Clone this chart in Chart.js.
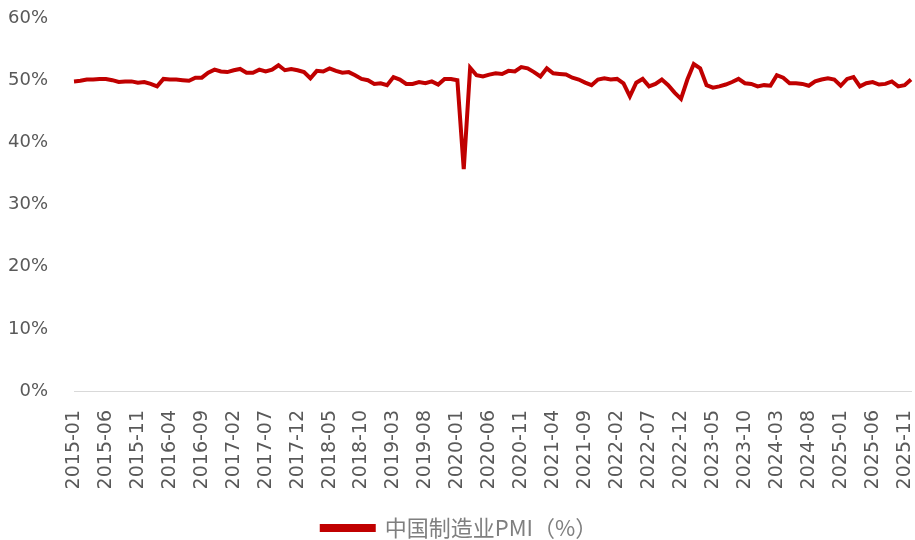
<!DOCTYPE html>
<html>
<head>
<meta charset="utf-8">
<script src="https://cdn.jsdelivr.net/npm/chart.js@4"></script>
<style>
  html, body { margin: 0; padding: 0; background: #fff; }
  #wrap { width: 915px; height: 540px; }
</style>
</head>
<body>
<div id="wrap"><canvas id="pmiChart"></canvas></div>
<script>
// mois 2015-01 .. 2025-12
const years = ['2015','2016','2017','2018','2019','2020','2021','2022','2023','2024','2025'];
const months = ['01','02','03','04','05','06','07','08','09','10','11','12'];
const labels = [];
years.forEach(y => months.forEach(m => labels.push(y + '-' + m)));

const pmi2015 = [49.8, 49.9, 50.1, 50.1, 50.2, 50.2, 50.0, 49.7, 49.8, 49.8, 49.6, 49.7];
const pmi2016 = [49.4, 49.0, 50.2, 50.1, 50.1, 50.0, 49.9, 50.4, 50.4, 51.2, 51.7, 51.4];
const pmi2017 = [51.3, 51.6, 51.8, 51.2, 51.2, 51.7, 51.4, 51.7, 52.4, 51.6, 51.8, 51.6];
const pmi2018 = [51.3, 50.3, 51.5, 51.4, 51.9, 51.5, 51.2, 51.3, 50.8, 50.2, 50.0, 49.4];
const pmi2019 = [49.5, 49.2, 50.5, 50.1, 49.4, 49.4, 49.7, 49.5, 49.8, 49.3, 50.2, 50.2];
const pmi2020 = [50.0, 35.7, 52.0, 50.8, 50.6, 50.9, 51.1, 51.0, 51.5, 51.4, 52.1, 51.9];
const pmi2021 = [51.3, 50.6, 51.9, 51.1, 51.0, 50.9, 50.4, 50.1, 49.6, 49.2, 50.1, 50.3];
const pmi2022 = [50.1, 50.2, 49.5, 47.4, 49.6, 50.2, 49.0, 49.4, 50.1, 49.2, 48.0, 47.0];
const pmi2023 = [50.1, 52.6, 51.9, 49.2, 48.8, 49.0, 49.3, 49.7, 50.2, 49.5, 49.4, 49.0];
const pmi2024 = [49.2, 49.1, 50.8, 50.4, 49.5, 49.5, 49.4, 49.1, 49.8, 50.1, 50.3, 50.1];
const pmi2025 = [49.1, 50.2, 50.5, 49.0, 49.5, 49.7, 49.3, 49.4, 49.8, 49.0, 49.2, 50.1];
const pmi = [].concat(pmi2015, pmi2016, pmi2017, pmi2018, pmi2019, pmi2020,
                      pmi2021, pmi2022, pmi2023, pmi2024, pmi2025);

const yTicks = [0, 10, 20, 30, 40, 50, 60];

window.addEventListener("DOMContentLoaded", () => {
  const ctx = document.getElementById('pmiChart').getContext('2d');
  new Chart(ctx, {
    type: 'line',
    data: {
      labels: labels,
      datasets: [{
        label: '中国制造业PMI（%）',
        data: pmi,
        borderColor: '#C00000',
        backgroundColor: '#C00000',
        borderWidth: 4,
        pointRadius: 0,
        tension: 0
      }]
    },
    options: {
      responsive: true,
      maintainAspectRatio: false,
      animation: false,
      layout: { padding: { left: 8, right: 4, top: 18, bottom: -9 } },
      plugins: {
        tooltip: { enabled: false },
        legend: {
          position: 'bottom',
          labels: {
            boxWidth: 52,
            boxHeight: 4,
            padding: 2,
            color: '#7f7f7f',
            font: { family: '"Noto Sans CJK SC", sans-serif', size: 22 }
          }
        }
      },
      scales: {
        x: {
          grid: { display: false },
          border: { display: true, color: '#d9d9d9', width: 1 },
          afterFit: s => { s.paddingLeft = 0; s.paddingRight = 0; s.height = 124; },
          ticks: {
            autoSkip: false,
            maxRotation: 90,
            minRotation: 90,
            padding: 11,
            color: '#595959',
            font: { family: '"DejaVu Sans", sans-serif', size: 19 },
            callback: (v, i) => (i % 5 === 0 ? labels[i] : '')
          }
        },
        y: {
          min: 0,
          max: 60,
          afterBuildTicks: axis => { axis.ticks = yTicks.map(v => ({ value: v })); },
          afterFit: s => { s.width = 66; s.paddingTop = 0; s.paddingBottom = 0; },
          grid: { display: false, drawTicks: false },
          border: { display: false },
          ticks: {
            padding: 26,
            color: '#595959',
            font: { family: '"DejaVu Sans", sans-serif', size: 18 },
            callback: v => v + '%'
          }
        }
      }
    }
  });
});
</script>
</body>
</html>
